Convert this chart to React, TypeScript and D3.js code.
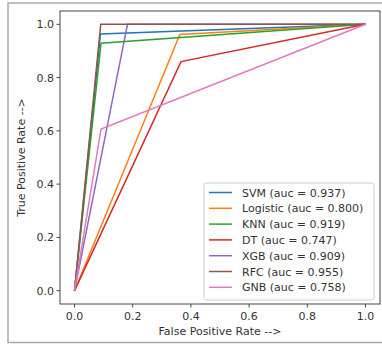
import React from "react";
import * as d3 from "d3";

const models = ["SVM", "Logistic", "KNN", "DT", "XGB", "RFC", "GNB"];
const aucs = ["0.937", "0.800", "0.919", "0.747", "0.909", "0.955", "0.758"];
const fprMid = [0.089, 0.362, 0.091, 0.366, 0.182, 0.09, 0.091];
const tprMid = [0.964, 0.962, 0.929, 0.86, 1.0, 1.0, 0.607];
const colors = ["#1f77b4", "#ff7f0e", "#2ca02c", "#d62728", "#9467bd", "#8c564b", "#e377c2"];
const ticks = [0, 0.2, 0.4, 0.6, 0.8, 1.0];

const W = 382, H = 345;
const L = 60, R = 380, T = 11, B = 304;

export default function App() {
  const x = d3.scaleLinear().domain([-0.05, 1.05]).range([L, R]);
  const y = d3.scaleLinear().domain([-0.05, 1.05]).range([B, T]);
  const line = d3.line<[number, number]>().x(d => x(d[0])).y(d => y(d[1]));
  const font = "DejaVu Sans, sans-serif";
  const txt = "#333";
  const fs = 11;
  const legX = 204, legY = 183, legW = 170, legH = 117, rowH = 15.8;
  return (
    <svg width={W} height={H} style={{ position: "absolute", left: 0, top: 0 }} fontFamily={font}>
      <rect x={0} y={0} width={W} height={H} fill="#fff" />
      <rect x={8} y={3} width={W} height={339.5} fill="none" stroke="#aaa" strokeWidth={1.5} />
      <g>
        {models.map((m, i) => (
          <path key={m} d={line([[0, 0], [fprMid[i], tprMid[i]], [1, 1]]) || ""} fill="none" stroke={colors[i]} strokeWidth={1.5} />
        ))}
      </g>
      <rect x={L} y={T} width={R - L} height={B - T} fill="none" stroke="#444" strokeWidth={1} />
      {ticks.map(t => (
        <g key={"x" + t}>
          <line x1={x(t)} x2={x(t)} y1={B} y2={B + 3.5} stroke="#444" />
          <text x={x(t)} y={B + 15.8} textAnchor="middle" fontSize={fs} fill={txt}>{t.toFixed(1)}</text>
        </g>
      ))}
      {ticks.map(t => (
        <g key={"y" + t}>
          <line x1={L - 3.5} x2={L} y1={y(t)} y2={y(t)} stroke="#444" />
          <text x={L - 6} y={y(t) + 4} textAnchor="end" fontSize={fs} fill={txt}>{t.toFixed(1)}</text>
        </g>
      ))}
      <text x={(L + R) / 2} y={335} textAnchor="middle" fontSize={fs} fill={txt}>False Positive Rate --&gt;</text>
      <text transform={`translate(25,${(T + B) / 2}) rotate(-90)`} textAnchor="middle" fontSize={fs} fill={txt}>True Positive Rate --&gt;</text>
      <rect x={legX} y={legY} width={legW} height={legH} rx={2.5} fill="#fff" fillOpacity={0.8} stroke="#ccc" strokeWidth={1} />
      {models.map((m, i) => {
        const cy = legY + 9.5 + i * rowH;
        return (
          <g key={"l" + m}>
            <line x1={legX + 5} x2={legX + 28} y1={cy} y2={cy} stroke={colors[i]} strokeWidth={1.5} />
            <text x={legX + 38} y={cy + 4} fontSize={fs} fill={txt}>{`${m} (auc = ${aucs[i]})`}</text>
          </g>
        );
      })}
    </svg>
  );
}
